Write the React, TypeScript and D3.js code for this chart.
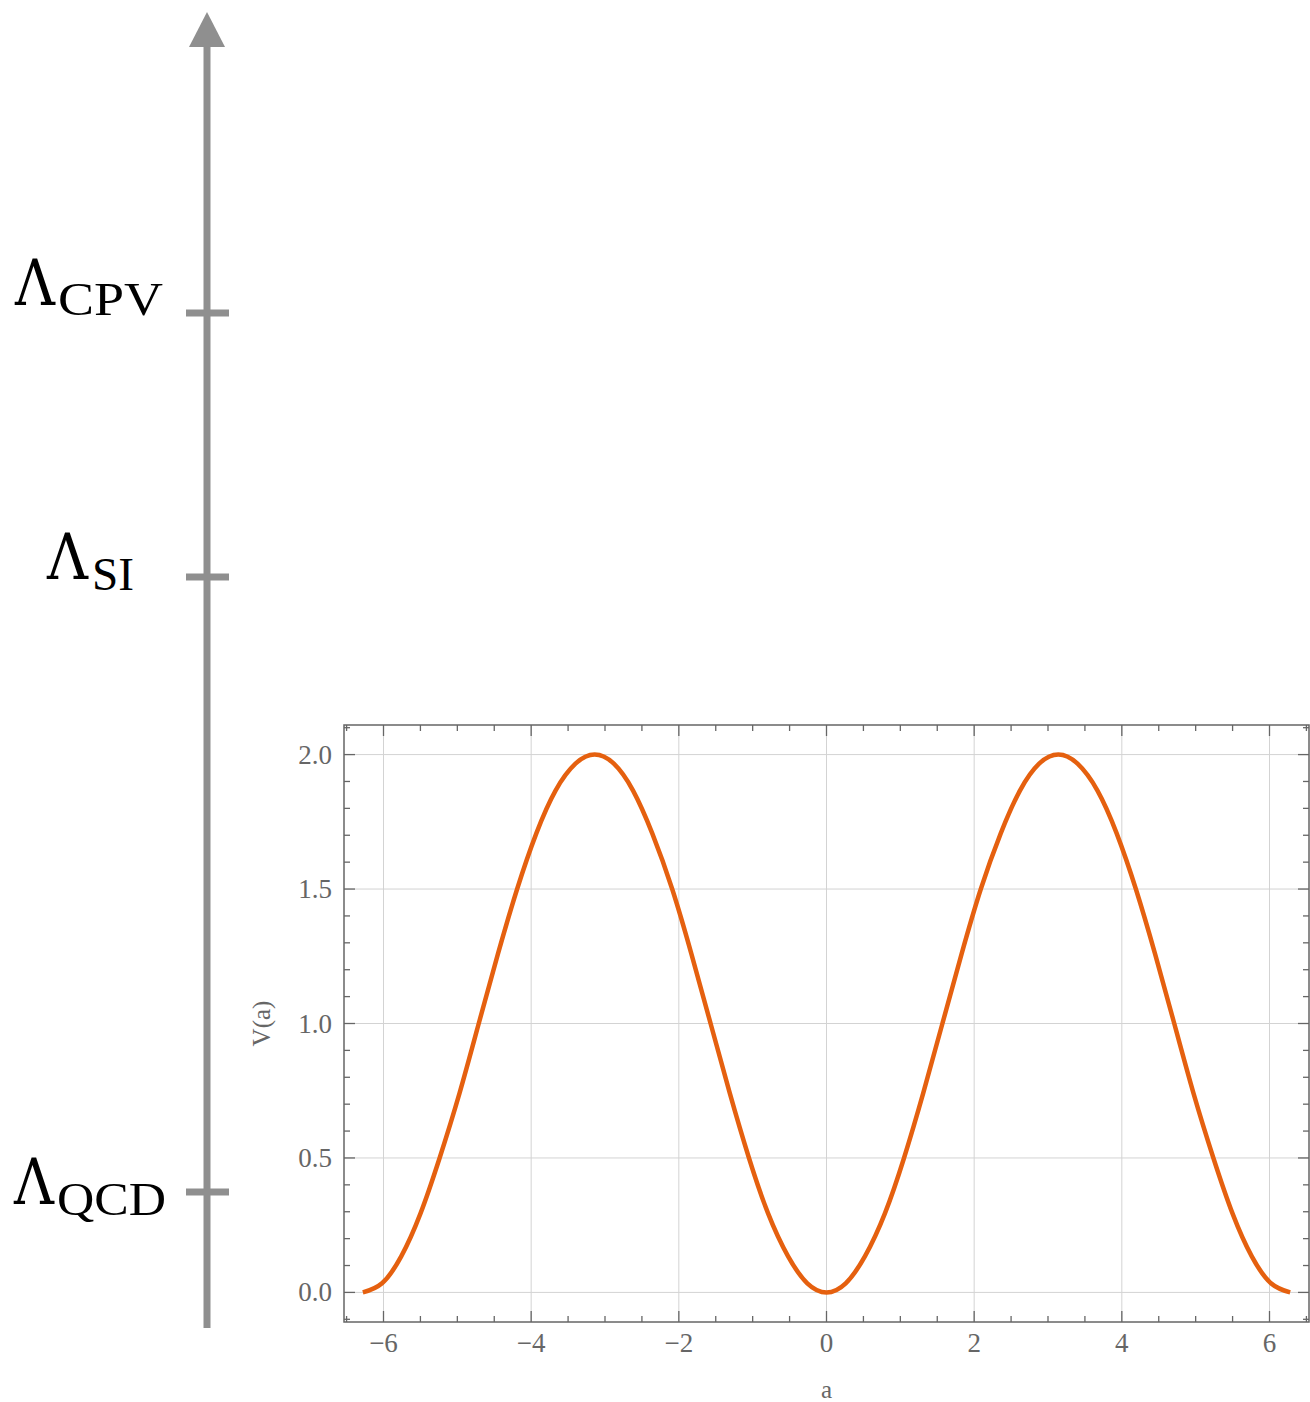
import * as d3 from 'd3';
import React, { useRef, useEffect } from 'react';

const aValues = [-6.28, -6.02, -5.76, -5.50, -5.24, -4.97, -4.71, -4.45, -4.19, -3.93, -3.67, -3.40,
    -3.14, -2.88, -2.62, -2.36, -2.09, -1.83, -1.57, -1.31, -1.05, -0.79, -0.52, -0.26,
    0, 0.26, 0.52, 0.79, 1.05, 1.31, 1.57, 1.83, 2.09, 2.36, 2.62, 2.88,
    3.14, 3.40, 3.67, 3.93, 4.19, 4.45, 4.71, 4.97, 5.24, 5.50, 5.76, 6.02, 6.28];
const vValues = [0, 0.034, 0.134, 0.293, 0.5, 0.741, 1, 1.259, 1.5, 1.707, 1.866, 1.966,
    2, 1.966, 1.866, 1.707, 1.5, 1.259, 1, 0.741, 0.5, 0.293, 0.134, 0.034,
    0, 0.034, 0.134, 0.293, 0.5, 0.741, 1, 1.259, 1.5, 1.707, 1.866, 1.966,
    2, 1.966, 1.866, 1.707, 1.5, 1.259, 1, 0.741, 0.5, 0.293, 0.134, 0.034, 0];
const xMajor = [-6, -4, -2, 0, 2, 4, 6];
const yMajor = [0, 0.5, 1, 1.5, 2];
const yLabels = ['0.0', '0.5', '1.0', '1.5', '2.0'];

// energy scale ladder (0 = bottom of arrow, 1 = arrow base)
const scaleNames = ['CPV', 'SI', 'QCD'];
const scaleLevels = [0.7917, 0.5858, 0.1061];

const W = 1310, H = 1402;
const frame = { left: 344, right: 1309, top: 725, bottom: 1322 };
const grey = '#666';
const serif = '"Liberation Serif", "Times New Roman", serif';
const greekFont = '"DejaVu Serif", serif';

function App() {
    const ref = useRef(null);

    useEffect(() => {
        const svg = d3.select(ref.current);
        svg.selectAll('*').remove();

        // ---- left ladder ----
        const ladderX = 207;
        const ly = d3.scaleLinear().domain([0, 1]).range([1328, 46]);
        const lad = svg.append('g');
        lad.append('line')
            .attr('x1', ladderX).attr('x2', ladderX)
            .attr('y1', ly(0)).attr('y2', ly(1))
            .attr('stroke', '#8f8f8f').attr('stroke-width', 7);
        lad.append('path')
            .attr('d', `M${ladderX},12 L${ladderX + 18},47 L${ladderX - 18},47 Z`)
            .attr('fill', '#8f8f8f');

        const labelPos = [
            { lx: 15, lw: 40, ldy: -8, sx: 58, sw: 105, sdy: 2 },
            { lx: 47, lw: 41, ldy: 2, sx: 92, sw: 42, sdy: 13 },
            { lx: 14, lw: 40, ldy: 12, sx: 57, sw: 109, sdy: 23 },
        ];
        scaleNames.forEach((name, i) => {
            const y = ly(scaleLevels[i]);
            lad.append('line')
                .attr('x1', 186).attr('x2', 229)
                .attr('y1', y).attr('y2', y)
                .attr('stroke', '#8f8f8f').attr('stroke-width', 7);
            const p = labelPos[i];
            lad.append('text')
                .attr('x', p.lx).attr('y', y + p.ldy)
                .attr('font-family', greekFont).attr('font-size', 64)
                .attr('textLength', p.lw).attr('lengthAdjust', 'spacingAndGlyphs')
                .attr('fill', '#000').text('Λ');
            lad.append('text')
                .attr('x', p.sx).attr('y', y + p.sdy)
                .attr('font-family', serif).attr('font-size', 47)
                .attr('textLength', p.sw).attr('lengthAdjust', 'spacingAndGlyphs')
                .attr('fill', '#000').text(name);
        });

        // ---- plot ----
        const x = d3.scaleLinear().domain([-6.535, 6.535]).range([frame.left, frame.right]);
        const y = d3.scaleLinear().domain([-0.11, 2.11]).range([frame.bottom, frame.top]);
        const g = svg.append('g');

        // grid
        g.selectAll('.gx').data(xMajor).enter().append('line')
            .attr('x1', d => x(d)).attr('x2', d => x(d))
            .attr('y1', frame.top).attr('y2', frame.bottom)
            .attr('stroke', '#d3d3d3').attr('stroke-width', 1);
        g.selectAll('.gy').data(yMajor).enter().append('line')
            .attr('x1', frame.left).attr('x2', frame.right)
            .attr('y1', d => y(d)).attr('y2', d => y(d))
            .attr('stroke', '#d3d3d3').attr('stroke-width', 1);

        // ticks on all four sides, pointing inward
        const xMinor = d3.range(-6.5, 6.51, 0.5).filter(v => !xMajor.includes(v));
        const yMinor = d3.range(-0.1, 2.101, 0.1).map(v => Math.round(v * 10) / 10)
            .filter(v => !yMajor.includes(v));
        const tick = (x1, y1, x2, y2) => g.append('line')
            .attr('x1', x1).attr('y1', y1).attr('x2', x2).attr('y2', y2)
            .attr('stroke', grey).attr('stroke-width', 1.3);
        xMajor.forEach(v => { tick(x(v), frame.bottom, x(v), frame.bottom - 11); tick(x(v), frame.top, x(v), frame.top + 11); });
        xMinor.forEach(v => { tick(x(v), frame.bottom, x(v), frame.bottom - 6); tick(x(v), frame.top, x(v), frame.top + 6); });
        yMajor.forEach(v => { tick(frame.left, y(v), frame.left + 11, y(v)); tick(frame.right, y(v), frame.right - 11, y(v)); });
        yMinor.forEach(v => { tick(frame.left, y(v), frame.left + 6, y(v)); tick(frame.right, y(v), frame.right - 6, y(v)); });

        // frame
        g.append('rect')
            .attr('x', frame.left).attr('y', frame.top)
            .attr('width', frame.right - frame.left).attr('height', frame.bottom - frame.top)
            .attr('fill', 'none').attr('stroke', grey).attr('stroke-width', 1.5);

        // tick labels
        g.selectAll('.xl').data(xMajor).enter().append('text')
            .attr('x', d => x(d)).attr('y', frame.bottom + 30)
            .attr('text-anchor', 'middle')
            .attr('font-family', serif).attr('font-size', 27).attr('fill', grey)
            .text(d => (d < 0 ? '\u2212' + Math.abs(d) : String(d)));
        g.selectAll('.yl').data(yMajor).enter().append('text')
            .attr('x', frame.left - 12).attr('y', d => y(d) + 9)
            .attr('text-anchor', 'end')
            .attr('font-family', serif).attr('font-size', 27).attr('fill', grey)
            .text((d, i) => yLabels[i]);

        // axis labels
        g.append('text')
            .attr('x', x(0)).attr('y', 1398)
            .attr('text-anchor', 'middle')
            .attr('font-family', serif).attr('font-size', 25).attr('fill', grey)
            .text('a');
        g.append('text')
            .attr('transform', `translate(270,${y(1)}) rotate(-90)`)
            .attr('text-anchor', 'middle')
            .attr('font-family', serif).attr('font-size', 25).attr('fill', grey)
            .text('V(a)');

        // curve
        const line = d3.line()
            .x((d, i) => x(aValues[i]))
            .y((d, i) => y(vValues[i]))
            .curve(d3.curveNatural);
        g.append('path')
            .attr('d', line(aValues))
            .attr('fill', 'none')
            .attr('stroke', '#e5600f').attr('stroke-width', 4.5)
            .attr('stroke-linejoin', 'round');
    }, []);

    return (
        <svg ref={ref} width={W} height={H}
            style={{ position: 'absolute', left: 0, top: 0, background: '#fff' }} />
    );
}

export default App;
